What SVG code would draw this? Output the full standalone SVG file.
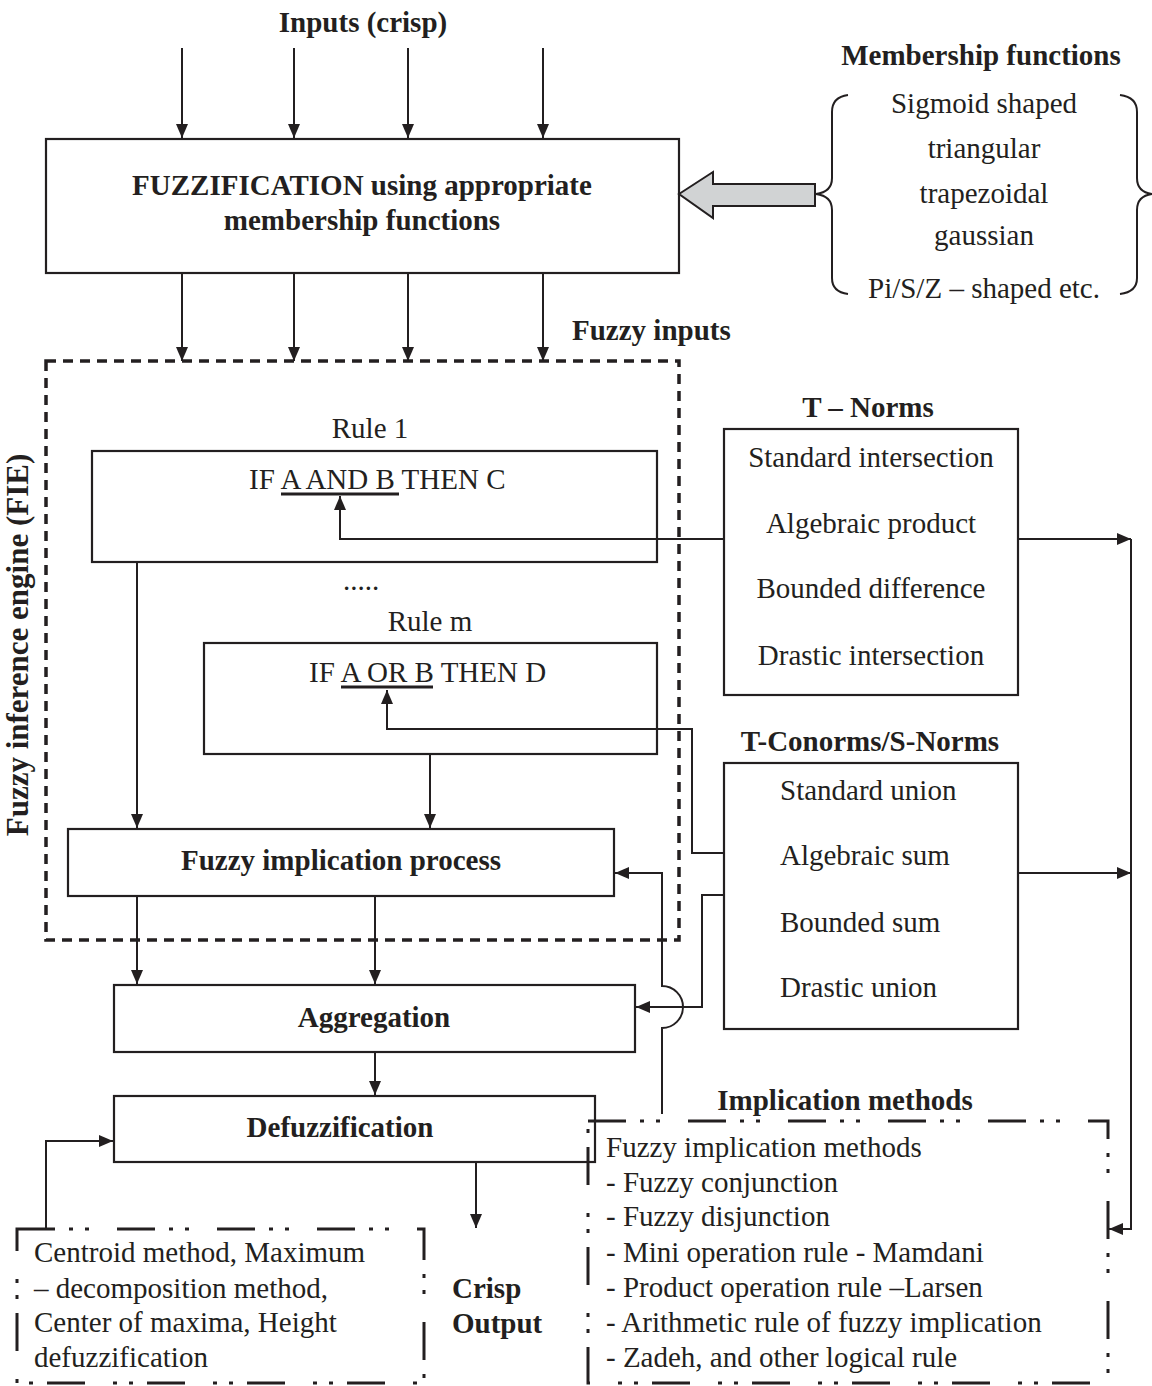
<svg xmlns="http://www.w3.org/2000/svg" width="1152" height="1386" viewBox="0 0 1152 1386">
  <style>
    text { font-family: "Liberation Serif", "Times New Roman", serif; font-size: 29px; fill: #231f20; }
    .b { font-weight: bold; }
    .c { text-anchor: middle; }
    .box { fill: none; stroke: #231f20; stroke-width: 2.2; }
    .ln { fill: none; stroke: #231f20; stroke-width: 2; }
    .arr { fill: none; stroke: #231f20; stroke-width: 2; marker-end: url(#ah); }
    .fie { fill: none; stroke: #231f20; stroke-width: 3.5; stroke-dasharray: 10 7; }
    .dd { fill: none; stroke: #231f20; stroke-width: 3; stroke-dasharray: 38 14 4 12 4 28; }
    .ul { stroke: #231f20; stroke-width: 3; }
  </style>
  <defs>
    <marker id="ah" viewBox="0 0 14 12" refX="14" refY="6" markerWidth="14" markerHeight="12" markerUnits="userSpaceOnUse" orient="auto">
      <path d="M0,0 L14,6 L0,12 Z" fill="#231f20"/>
    </marker>
  </defs>

  <rect width="1152" height="1386" fill="#ffffff"/>

  <!-- Crisp inputs -->
  <g id="inputs">
    <text class="b c" x="363" y="32">Inputs (crisp)</text>
  </g>

  <!-- Fuzzification block -->
  <g id="fuzzification">
    <rect class="box" x="46" y="139" width="633" height="134"/>
    <text class="b c" x="362" y="195">FUZZIFICATION using appropriate</text>
    <text class="b c" x="362" y="230">membership functions</text>
  </g>

  <!-- Membership function list with braces and block arrow -->
  <g id="membership">
    <text class="b c" x="981" y="65">Membership functions</text>
    <text class="c" x="984" y="113">Sigmoid shaped</text>
    <text class="c" x="984" y="158">triangular</text>
    <text class="c" x="984" y="203">trapezoidal</text>
    <text class="c" x="984" y="245">gaussian</text>
    <text class="c" x="984" y="298">Pi/S/Z – shaped etc.</text>
    <path class="ln" d="M848,95 Q832,97 832,112 L832,178 Q832,192 816,194 Q832,196 832,210 L832,278 Q832,292 848,294"/>
    <path class="ln" d="M1120,95 Q1137,97 1137,112 L1137,178 Q1137,192 1152,194 Q1137,196 1137,210 L1137,278 Q1137,292 1120,294"/>
    <path d="M679,194 L713,172 L713,184 L815,184 L815,206 L713,206 L713,218 Z" fill="#d1d3d4" stroke="#231f20" stroke-width="2"/>
  </g>

  <!-- Fuzzy inference engine -->
  <g id="fie">
    <rect class="fie" x="46" y="361" width="633" height="579"/>
    <text class="b c" style="font-size:31px" transform="translate(28,645) rotate(-90)">Fuzzy inference engine (FIE)</text>
    <text class="b" x="572" y="340">Fuzzy inputs</text>
  </g>

  <g id="rule1">
    <text class="c" x="370" y="438">Rule 1</text>
    <rect class="box" x="92" y="451" width="565" height="111"/>
    <text x="249" y="489">IF A AND B THEN C</text>
    <line class="ul" x1="281" y1="494" x2="399" y2="494"/>
  </g>

  <g id="dots">
    <text class="c" x="361" y="590">.....</text>
  </g>

  <g id="rulem">
    <text class="c" x="430" y="631">Rule m</text>
    <rect class="box" x="204" y="643" width="453" height="111"/>
    <text x="309" y="682">IF A OR B THEN D</text>
    <line class="ul" x1="341" y1="687" x2="433" y2="687"/>
  </g>

  <g id="implication-process">
    <rect class="box" x="68" y="829" width="546" height="67"/>
    <text class="b c" x="341" y="870">Fuzzy implication process</text>
  </g>

  <g id="aggregation">
    <rect class="box" x="114" y="985" width="521" height="67"/>
    <text class="b c" x="374" y="1027">Aggregation</text>
  </g>

  <g id="defuzzification">
    <rect class="box" x="114" y="1096" width="481" height="66"/>
    <text class="b c" x="340" y="1137">Defuzzification</text>
  </g>

  <g id="defuzz-methods">
    <rect class="dd" x="17" y="1229" width="407" height="154"/>
    <text x="34" y="1262">Centroid method, Maximum</text>
    <text x="34" y="1298">– decomposition method,</text>
    <text x="34" y="1332">Center of maxima, Height</text>
    <text x="34" y="1367">defuzzification</text>
  </g>

  <g id="crisp-output">
    <text class="b" x="452" y="1298">Crisp</text>
    <text class="b" x="452" y="1333">Output</text>
  </g>

  <g id="t-norms">
    <text class="b c" x="868" y="417">T – Norms</text>
    <rect class="box" x="724" y="429" width="294" height="266"/>
    <text class="c" x="871" y="467">Standard intersection</text>
    <text class="c" x="871" y="533">Algebraic product</text>
    <text class="c" x="871" y="598">Bounded difference</text>
    <text class="c" x="871" y="665">Drastic intersection</text>
  </g>

  <g id="t-conorms">
    <text class="b c" x="870" y="751">T-Conorms/S-Norms</text>
    <rect class="box" x="724" y="763" width="294" height="266"/>
    <text x="780" y="800">Standard union</text>
    <text x="780" y="865">Algebraic sum</text>
    <text x="780" y="932">Bounded sum</text>
    <text x="780" y="997">Drastic union</text>
  </g>

  <g id="implication-methods">
    <text class="b c" x="845" y="1110">Implication methods</text>
    <rect class="dd" x="588" y="1121" width="520" height="262"/>
    <text x="606" y="1157">Fuzzy implication methods</text>
    <text x="606" y="1192">- Fuzzy conjunction</text>
    <text x="606" y="1226">- Fuzzy disjunction</text>
    <text x="606" y="1262">- Mini operation rule - Mamdani</text>
    <text x="606" y="1297">- Product operation rule –Larsen</text>
    <text x="606" y="1332">- Arithmetic rule of fuzzy implication</text>
    <text x="606" y="1367">- Zadeh, and other logical rule</text>
  </g>

  <!-- Connectors -->
  <g id="connectors">
    <!-- crisp inputs into fuzzification -->
    <line class="arr" x1="182" y1="48" x2="182" y2="138"/>
    <line class="arr" x1="294" y1="48" x2="294" y2="138"/>
    <line class="arr" x1="408" y1="48" x2="408" y2="138"/>
    <line class="arr" x1="543" y1="48" x2="543" y2="138"/>
    <!-- fuzzy inputs into FIE -->
    <line class="arr" x1="182" y1="273" x2="182" y2="361"/>
    <line class="arr" x1="294" y1="273" x2="294" y2="361"/>
    <line class="arr" x1="408" y1="273" x2="408" y2="361"/>
    <line class="arr" x1="543" y1="273" x2="543" y2="361"/>
    <!-- T-norms to rule 1 operator -->
    <polyline class="arr" points="724,539 340,539 340,496"/>
    <!-- S-norms to rule m operator -->
    <polyline class="arr" points="724,853 692,853 692,729 387,729 387,690"/>
    <!-- rules into implication process -->
    <line class="arr" x1="137" y1="562" x2="137" y2="828"/>
    <line class="arr" x1="430" y1="754" x2="430" y2="828"/>
    <!-- implication process to aggregation -->
    <line class="arr" x1="137" y1="896" x2="137" y2="984"/>
    <line class="arr" x1="375" y1="896" x2="375" y2="984"/>
    <!-- aggregation to defuzzification -->
    <line class="arr" x1="375" y1="1052" x2="375" y2="1095"/>
    <!-- defuzzification to crisp output -->
    <line class="arr" x1="476" y1="1162" x2="476" y2="1228"/>
    <!-- defuzzification methods into defuzzification -->
    <polyline class="arr" points="46,1229 46,1141 113,1141"/>
    <!-- S-norms to aggregation -->
    <polyline class="arr" points="724,895 702,895 702,1007 636,1007"/>
    <!-- implication methods to implication process, hopping the aggregation line -->
    <path class="arr" d="M662,1114 L662,1028 A21,21 0 0 0 662,986 L662,873 L615,873"/>
    <!-- norms to implication methods bus -->
    <line class="arr" x1="1018" y1="539" x2="1131" y2="539"/>
    <line class="arr" x1="1018" y1="873" x2="1131" y2="873"/>
    <polyline class="arr" points="1131,539 1131,1229 1109,1229"/>
  </g>
</svg>
